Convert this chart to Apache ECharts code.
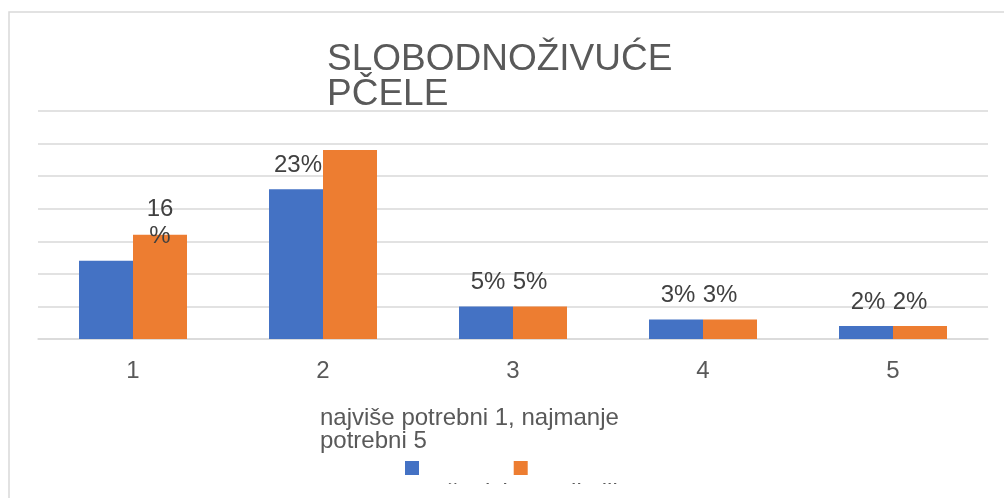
<!DOCTYPE html>
<html>
<head>
<meta charset="utf-8">
<script src="https://cdn.jsdelivr.net/npm/echarts@6/dist/echarts.min.js"></script>
<style>
    html, body { margin: 0; padding: 0; background: #fff; }
    #chart1 { width: 1004px; height: 498px; }
</style>
</head>
<body>
<div id="chart1"></div>
<script>
    // podaci
    var categories = ['1', '2', '3', '4', '5'];
    var seriesNames = ['učenici', 'roditelji'];
    var blueValues = [12, 23, 5, 3, 2];
    var orangeValues = [16, 29, 5, 3, 2];
    var blueLabels = ['', '23%', '5%', '3%', '2%'];
    var orangeLabels = ['16\n%', '', '5%', '3%', '2%'];
    var yTicks = [0, 35, 5]; // min, max, interval

    var font = 'Liberation Sans, Arial, sans-serif';

    function buildData(values, labels, shiftX) {
        return values.map(function (v, i) {
            var item = { value: v, label: { show: labels[i] !== '', formatter: labels[i], offset: [shiftX, 0] } };
            if (labels[i].indexOf('\n') >= 0) {
                item.label.lineHeight = 27;
                item.label.distance = -15;
                item.label.offset = [0, 0];
            }
            return item;
        });
    }

    var labelStyle = {
        show: true,
        position: 'top',
        distance: 12,
        color: '#404040',
        fontSize: 24,
        lineHeight: 24,
        fontFamily: font
    };

    var myChart = echarts.init(document.getElementById('chart1'));
    var option = {
        animation: false,
        backgroundColor: '#fff',
        title: [
            {
                text: 'SLOBODNOŽIVUĆE\nPČELE',
                left: 327,
                top: 42,
                padding: 0,
                textStyle: { color: '#595959', fontSize: 37, fontWeight: 'normal', lineHeight: 35, fontFamily: font }
            },
            {
                text: 'najviše potrebni 1, najmanje\npotrebni 5',
                left: 320,
                top: 407,
                padding: 0,
                textStyle: { color: '#595959', fontSize: 24, fontWeight: 'normal', lineHeight: 23, fontFamily: font }
            }
        ],
        graphic: [
            {
                type: 'rect',
                silent: true,
                shape: { x: 9, y: 12, width: 1200, height: 600 },
                style: { fill: 'none', stroke: '#d9d9d9', lineWidth: 1.5 }
            },
            {
                // legenda je u originalu odrezana
                type: 'rect',
                silent: true,
                z: 100,
                shape: { x: 425, y: 484, width: 300, height: 20 },
                style: { fill: '#fff' }
            }
        ],
        legend: {
            data: seriesNames,
            left: 405,
            top: 461,
            padding: 0,
            icon: 'rect',
            itemWidth: 14,
            itemHeight: 14,
            itemGap: 6,
            formatter: '{t|{name}}',
            textStyle: {
                color: '#595959',
                fontSize: 24,
                fontFamily: font,
                rich: {
                    t: {
                        color: '#595959',
                        fontSize: 24,
                        fontFamily: font,
                        width: 76,
                        padding: [50, 0, 0, 9]
                    }
                }
            }
        },
        grid: {
            left: 38,
            right: 16,
            top: 111,
            bottom: 159
        },
        xAxis: {
            type: 'category',
            data: categories,
            axisTick: { show: false },
            axisLine: { lineStyle: { color: '#d9d9d9', width: 1.5 } },
            axisLabel: { color: '#595959', fontSize: 24, fontFamily: font, margin: 20 }
        },
        yAxis: {
            type: 'value',
            min: yTicks[0],
            max: yTicks[1],
            interval: yTicks[2],
            axisLabel: { show: false },
            axisLine: { show: false },
            axisTick: { show: false },
            splitLine: { lineStyle: { color: '#d9d9d9', width: 1.5 } }
        },
        series: [
            {
                name: seriesNames[0],
                type: 'bar',
                barWidth: 54,
                barGap: '0%',
                itemStyle: { color: '#4472C4' },
                label: labelStyle,
                data: buildData(blueValues, blueLabels, 2)
            },
            {
                name: seriesNames[1],
                type: 'bar',
                barWidth: 54,
                barGap: '0%',
                itemStyle: { color: '#ED7D31' },
                label: labelStyle,
                data: buildData(orangeValues, orangeLabels, -10)
            }
        ]
    };
    myChart.setOption(option);
    window.addEventListener('resize', function () {
        myChart.resize();
    });
</script>
</body>
</html>
